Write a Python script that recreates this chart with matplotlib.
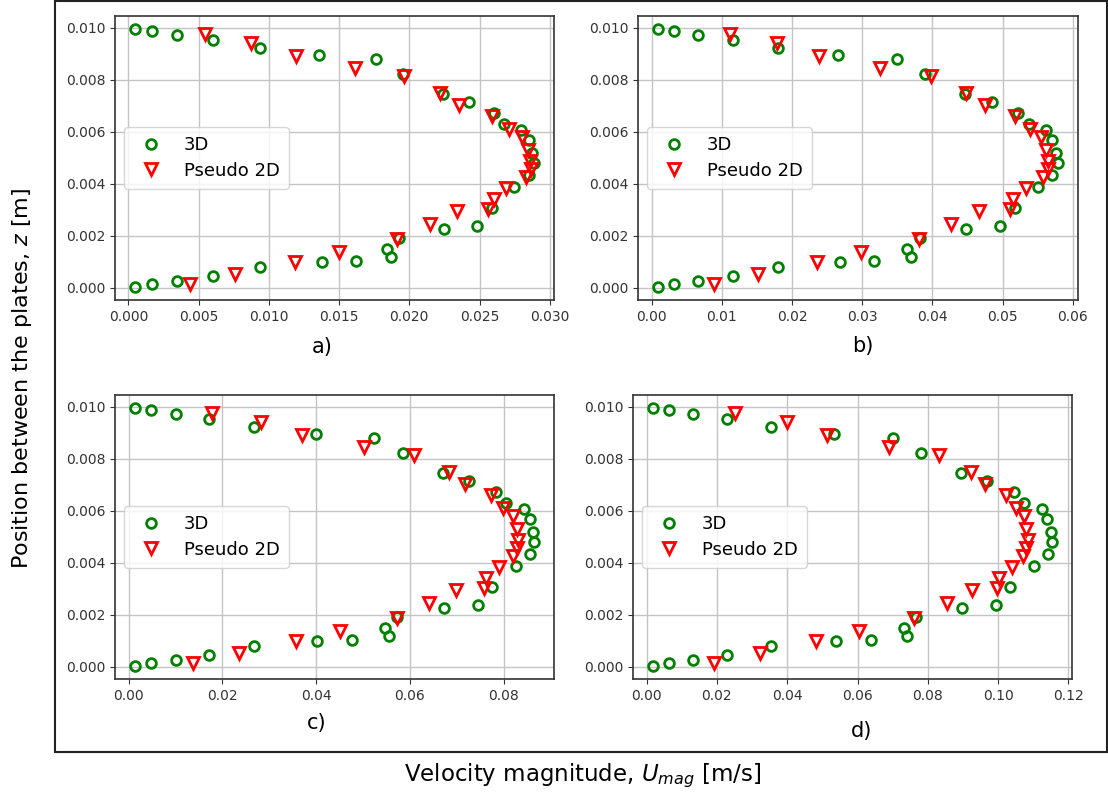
import matplotlib
matplotlib.use("Agg")
import matplotlib.pyplot as plt
from matplotlib.patches import Rectangle

# Positions between the plates (m) for the 3D profiles
z_3d = [9.96, 9.87, 9.73, 9.53, 9.21, 8.95, 8.81, 8.24, 7.47, 7.13, 6.72, 6.32,
        6.08, 5.68, 5.19, 4.79, 4.34, 3.88, 3.07, 2.38, 2.25, 1.92, 1.48, 1.20,
        1.03, 0.98, 0.79, 0.46, 0.26, 0.13, 0.03]
z_3d = [v * 1e-3 for v in z_3d]

# Positions for the pseudo-2D profiles (m)
z_2d = [9.77, 9.40, 8.90, 8.47, 8.16, 7.50, 7.02, 6.60, 6.12, 5.79, 5.31, 4.89,
        4.57, 4.25, 3.83, 3.42, 3.05, 2.94, 2.46, 1.88, 1.38, 0.98, 0.52, 0.14]
z_2d = [v * 1e-3 for v in z_2d]

# Velocity magnitudes (m/s), 3D model
u3d_a = [0.00050, 0.00168, 0.00348, 0.00604, 0.00935, 0.01356, 0.01763, 0.01955,
         0.02237, 0.02424, 0.02606, 0.02677, 0.02795, 0.02850, 0.02876, 0.02888,
         0.02850, 0.02748, 0.02587, 0.02480, 0.02246, 0.01929, 0.01839, 0.01867,
         0.01617, 0.01375, 0.00935, 0.00601, 0.00348, 0.00166, 0.00047]
u3d_b = [0.00090, 0.00323, 0.00665, 0.01154, 0.01800, 0.02660, 0.03496, 0.03895,
         0.04466, 0.04846, 0.05221, 0.05373, 0.05615, 0.05710, 0.05767, 0.05791,
         0.05710, 0.05511, 0.05173, 0.04964, 0.04485, 0.03829, 0.03639, 0.03696,
         0.03173, 0.02684, 0.01800, 0.01154, 0.00665, 0.00323, 0.00090]
u3d_c = [0.00135, 0.00477, 0.01003, 0.01707, 0.02667, 0.03997, 0.05242, 0.05846,
         0.06700, 0.07255, 0.07838, 0.08051, 0.08435, 0.08563, 0.08634, 0.08649,
         0.08570, 0.08258, 0.07760, 0.07447, 0.06728, 0.05733, 0.05462, 0.05548,
         0.04758, 0.04018, 0.02667, 0.01707, 0.01003, 0.00477, 0.00135]
u3d_d = [0.00180, 0.00644, 0.01316, 0.02273, 0.03551, 0.05341, 0.06998, 0.07794,
         0.08930, 0.09678, 0.10445, 0.10729, 0.11241, 0.11402, 0.11506, 0.11534,
         0.11411, 0.11013, 0.10331, 0.09953, 0.08977, 0.07652, 0.07320, 0.07415,
         0.06373, 0.05388, 0.03551, 0.02273, 0.01316, 0.00644, 0.00180]

# Velocity magnitudes (m/s), pseudo-2D model
u2d_a = [0.00544, 0.00876, 0.01195, 0.01614, 0.01964, 0.02215, 0.02357, 0.02587,
         0.02712, 0.02800, 0.02842, 0.02857, 0.02866, 0.02828, 0.02691, 0.02604,
         0.02563, 0.02343, 0.02147, 0.01915, 0.01498, 0.01188, 0.00757, 0.00438]
u2d_b = [0.01116, 0.01781, 0.02380, 0.03254, 0.03976, 0.04485, 0.04755, 0.05173,
         0.05387, 0.05553, 0.05615, 0.05644, 0.05644, 0.05572, 0.05330, 0.05154,
         0.05107, 0.04665, 0.04271, 0.03805, 0.02988, 0.02352, 0.01515, 0.00888]
u2d_c = [0.01778, 0.02824, 0.03691, 0.05014, 0.06095, 0.06828, 0.07183, 0.07731,
         0.07994, 0.08201, 0.08279, 0.08307, 0.08279, 0.08201, 0.07902, 0.07624,
         0.07575, 0.06984, 0.06408, 0.05725, 0.04516, 0.03570, 0.02347, 0.01380]
u2d_d = [0.02509, 0.03996, 0.05142, 0.06903, 0.08305, 0.09223, 0.09621, 0.10237,
         0.10511, 0.10729, 0.10805, 0.10852, 0.10786, 0.10701, 0.10388, 0.10038,
         0.09981, 0.09252, 0.08532, 0.07614, 0.06051, 0.04830, 0.03239, 0.01922]

panel_labels = ["a)", "b)", "c)", "d)"]
series_3d = [u3d_a, u3d_b, u3d_c, u3d_d]
series_2d = [u2d_a, u2d_b, u2d_c, u2d_d]

W, H = 1108, 798
fig = plt.figure(figsize=(W / 100, H / 100), dpi=100)

# axes boxes in pixels: left, top, right, bottom
boxes = [(115, 16, 554, 300), (638, 16, 1078, 300),
         (115, 395, 554, 679), (633, 395, 1072, 679)]
label_pos = [(322, 347), (863, 346), (317, 723), (862, 731)]

for i, (l, t, r, b) in enumerate(boxes):
    ax = fig.add_axes([l / W, 1 - b / H, (r - l) / W, (b - t) / H])
    ax.plot(series_3d[i], z_3d, "o", ls="none", mfc="none", mec="green",
            mew=2, ms=7, label="3D")
    ax.plot(series_2d[i], z_2d, "v", ls="none", mfc="none", mec="red",
            mew=2, ms=8, label="Pseudo 2D")
    ax.grid(True, color="#c4c4c4", lw=1.0)
    ax.set_axisbelow(True)
    ax.set_yticks([0.0, 0.002, 0.004, 0.006, 0.008, 0.010])
    ax.tick_params(labelsize=10, colors="#333333")
    for sp in ax.spines.values():
        sp.set_edgecolor("#333333")
        sp.set_linewidth(1.2)
    ax.legend(loc="center left", fontsize=13, numpoints=1, handletextpad=0.8,
              borderpad=0.5, labelspacing=0.4)
    lx, ly = label_pos[i]
    fig.text(lx / W, 1 - ly / H, panel_labels[i], ha="center", va="center",
             fontsize=15)

# frame around the panel grid
fig.patches.append(Rectangle((55 / W, 1 - 752 / H), (1107 - 55) / W, (752 - 1) / H,
                             transform=fig.transFigure, fill=False,
                             edgecolor="#222222", lw=1.5))

fig.text(22 / W, 1 - 378 / H, "Position between the plates, $z$ [m]",
         rotation=90, ha="center", va="center", fontsize=16)
fig.text(583 / W, 1 - 776 / H, "Velocity magnitude, $U_{mag}$ [m/s]",
         ha="center", va="center", fontsize=16.5)

fig.savefig("out.png", dpi=100)
